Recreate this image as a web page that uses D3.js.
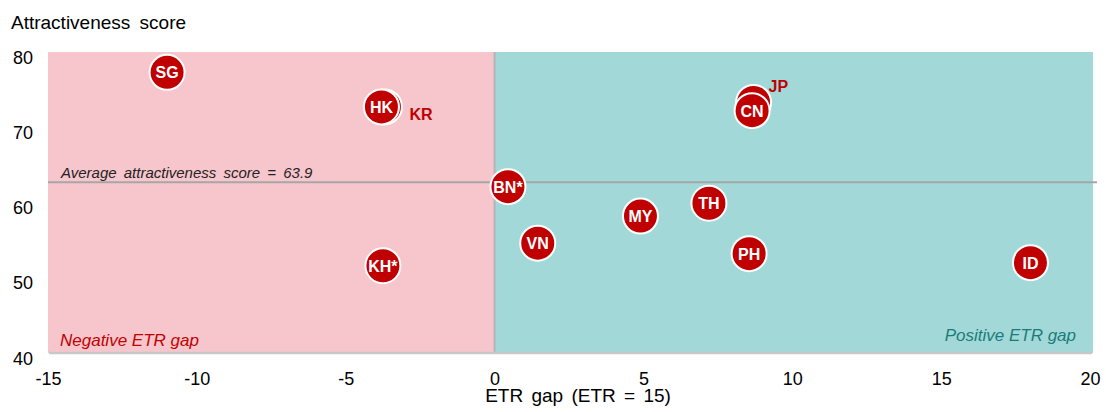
<!DOCTYPE html>
<html>
<head>
<meta charset="utf-8">
<script src="https://cdnjs.cloudflare.com/ajax/libs/d3/7.8.5/d3.min.js"></script>
<style>
body { margin: 0; background: #fff; }
svg text { font-family: "Liberation Sans", Arial, sans-serif; }
</style>
</head>
<body>
<script>
// economies, ETR gap (x) and attractiveness score (y)
var codes  = ["KR", "HK", "SG", "JP", "CN", "BN*", "MY", "TH", "VN", "PH", "ID", "KH*"];
var etrGap = [-3.7, -3.8, -11.0, 8.7, 8.65, 0.45, 4.9, 7.2, 1.45, 8.55, 18.0, -3.75];
var scores = [72.7, 72.7, 77.3, 73.3, 72.2, 62.1, 58.2, 59.9, 54.6, 53.2, 52.0, 51.6];
// labels placed outside the bubble
var outside = ["KR", "JP"];

var xTicks = [-15, -10, -5, 0, 5, 10, 15, 20];
var yTicks = [40, 50, 60, 70, 80];
var avgScore = 63.9;
var avgLinePos = 62.7;

var w = 1106, h = 412;
var padL = 48, padR = 1090, padT = 52, padB = 353;

var svg = d3.select("body").append("svg")
	.attr("width", w)
	.attr("height", h);

var x = d3.scaleLinear().domain([-15, 20]).range([padL, padR]);
var y = d3.scaleLinear().domain([40, 80]).range([padB, padT]);

// quadrant backgrounds
svg.append("rect")
	.attr("x", x(-15)).attr("y", y(80))
	.attr("width", x(0) - x(-15)).attr("height", y(40) - y(80))
	.style("fill", "#f7c6cd");
svg.append("rect")
	.attr("x", x(0)).attr("y", y(80))
	.attr("width", x(20) - x(0) + 3).attr("height", y(40) - y(80))
	.style("fill", "#a2d9d8");

// divider at zero
svg.append("line")
	.attr("x1", x(0)).attr("x2", x(0))
	.attr("y1", y(80)).attr("y2", y(40))
	.style("stroke", "#b4b4b4").style("stroke-width", 2);

// average line
svg.append("line")
	.attr("x1", x(-15)).attr("x2", x(20) + 7)
	.attr("y1", y(avgLinePos)).attr("y2", y(avgLinePos))
	.style("stroke", "#a6a6a6").style("stroke-width", 2);
svg.append("text")
	.attr("x", 61).attr("y", y(avgLinePos) - 4)
	.style("font-size", "15px").style("font-style", "italic").style("fill", "#222")
	.style("word-spacing", "3px")
	.text("Average attractiveness score = " + avgScore);

// x axis
var xAxis = svg.append("g")
	.attr("transform", "translate(0," + y(40) + ")")
	.call(d3.axisBottom(x).tickValues(xTicks).tickSize(0).tickFormat(d3.format("d")));
xAxis.select(".domain").attr("d", "M" + (padL + 1) + ",0H" + (padR + 2))
	.style("stroke", "#c8c8c8").style("stroke-width", 2.5);
xAxis.selectAll("text").attr("y", 32).attr("dy", 0)
	.style("font-size", "18px").style("fill", "#000")
	.text(function(d) { return d < 0 ? "-" + Math.abs(d) : d; });

// y axis
var yAxis = svg.append("g")
	.attr("transform", "translate(" + padL + ",0)")
	.call(d3.axisLeft(y).tickValues(yTicks).tickSize(0).tickPadding(15));
yAxis.select(".domain").remove();
yAxis.selectAll("text").attr("y", 11).attr("dy", 0)
	.style("font-size", "18px").style("fill", "#000");

svg.append("text")
	.attr("x", 11).attr("y", 29)
	.style("font-size", "19px").style("word-spacing", "4px")
	.text("Attractiveness score");
svg.append("text")
	.attr("x", 578).attr("y", 402)
	.style("font-size", "19px").style("text-anchor", "middle").style("word-spacing", "3px")
	.text("ETR gap (ETR = 15)");

// zone notes
svg.append("text")
	.attr("x", 60).attr("y", 346)
	.style("font-size", "17px").style("font-style", "italic").style("fill", "#c00000")
	.text("Negative ETR gap");
svg.append("text")
	.attr("x", 1076).attr("y", 341)
	.style("font-size", "17px").style("font-style", "italic").style("fill", "#1a7c7a")
	.style("text-anchor", "end")
	.text("Positive ETR gap");

// bubbles
var idx = d3.range(codes.length);
svg.selectAll("circle.pt")
	.data(idx)
	.enter()
	.append("circle")
	.attr("class", "pt")
	.attr("cx", function(i) { return x(etrGap[i]); })
	.attr("cy", function(i) { return y(scores[i]); })
	.attr("r", 17.5)
	.style("fill", "#c00000")
	.style("stroke", "#fff")
	.style("stroke-width", 2);

svg.selectAll("text.in")
	.data(idx.filter(function(i) { return outside.indexOf(codes[i]) < 0; }))
	.enter()
	.append("text")
	.attr("class", "in")
	.attr("x", function(i) { return x(etrGap[i]); })
	.attr("y", function(i) { return y(scores[i]) + 6; })
	.style("text-anchor", "middle")
	.style("font-size", "16px").style("font-weight", "bold").style("fill", "#fff")
	.text(function(i) { return codes[i]; });

svg.selectAll("text.out")
	.data(idx.filter(function(i) { return outside.indexOf(codes[i]) >= 0; }))
	.enter()
	.append("text")
	.attr("class", "out")
	.attr("x", function(i) { return x(etrGap[i]) + (codes[i] == "KR" ? 25 : 15); })
	.attr("y", function(i) { return y(scores[i]) + (codes[i] == "KR" ? 13 : -10); })
	.style("font-size", "16px").style("font-weight", "bold").style("fill", "#c00000")
	.text(function(i) { return codes[i]; });
</script>
</body>
</html>
